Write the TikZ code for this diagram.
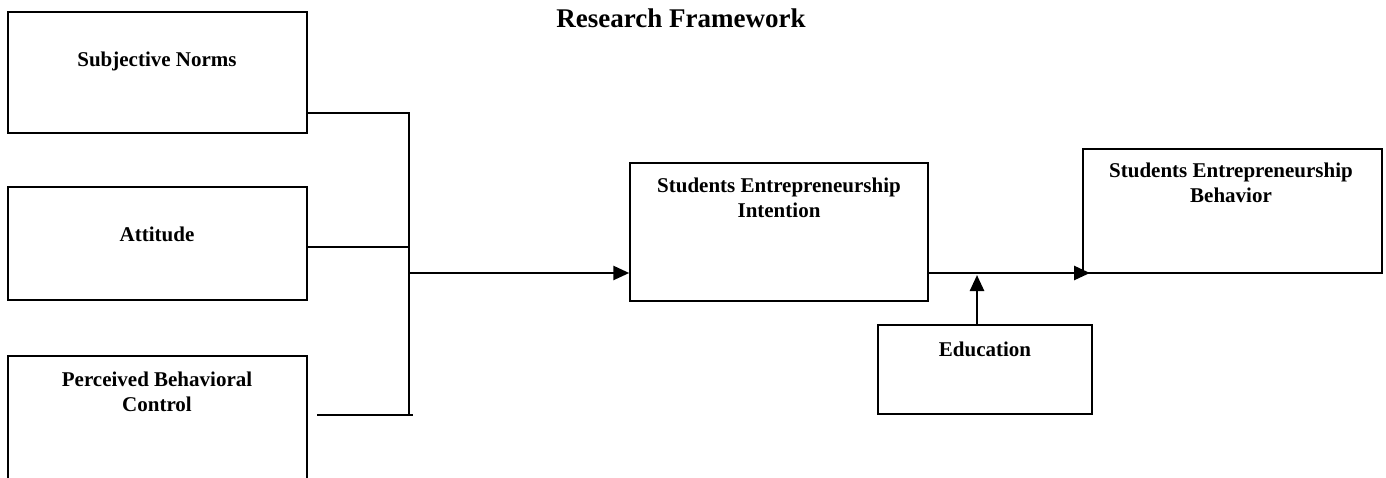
\documentclass[tikz,border=0pt]{standalone}
\usepackage{fontspec}
\setmainfont{Liberation Serif}
\usetikzlibrary{arrows.meta}
\begin{document}
\begin{tikzpicture}[x=1pt,y=-1pt,
  box/.style={draw, line width=1.5pt, inner sep=0pt},
  lbl/.style={anchor=base, align=center, inner sep=0pt,
    font=\bfseries\fontsize{21}{25}\selectfont},
  wire/.style={line width=2pt},
  flow/.style={line width=2.6pt, -{Triangle[length=16pt,width=14pt]}}]
\useasboundingbox (0,0) rectangle (1386,478);

% title
\node[anchor=base, inner sep=0pt, font=\bfseries\fontsize{27}{30}\selectfont]
  (title) at (681,28) {Research Framework};

% boxes
\node[box, minimum width=299pt, minimum height=121pt] (sn)  at (157.5,72.5) {};
\node[box, minimum width=299pt, minimum height=113pt] (att) at (157.5,243.5) {};
\node[box, minimum width=299pt, minimum height=134pt] (pbc) at (157.5,423) {};
\node[box, minimum width=298pt, minimum height=138pt] (sei) at (779,232) {};
\node[box, minimum width=299pt, minimum height=124pt] (seb) at (1232.5,211) {};
\node[box, minimum width=214pt, minimum height=89pt]  (edu) at (985,369.5) {};

% labels (anchor base = baseline of the last line)
\node[lbl] (snt)  at (157,67)  {Subjective Norms};
\node[lbl] (attt) at (157,242) {Attitude};
\node[lbl] (pbct) at (157,411) {Perceived Behavioral\\Control};
\node[lbl] (seit) at (779,218) {Students Entrepreneurship\\Intention};
\node[lbl] (sebt) at (1231,203) {Students Entrepreneurship\\Behavior};
\node[lbl] (edut) at (985,356) {Education};

% collecting bus
\coordinate (busTop) at (409,113);
\coordinate (busMid) at (409,247);
\coordinate (busOut) at (409,273);
\coordinate (busBot) at (409,415);
\coordinate (pbcL) at (317,415);
\coordinate (pbcR) at (413,415);
\coordinate (tipSeb) at (1090,273);
\coordinate (eduTip) at (977,275);

\draw[wire] (sn.east |- busTop) -- (busTop) -- (busBot);
\draw[wire] (att.east |- busMid) -- (busMid);
\draw[wire] (pbcL) -- (pbcR);

% arrows
\draw[flow] (busOut) -- (sei.west |- busOut);
\draw[flow] (sei.east |- busOut) -- (tipSeb);
\draw[flow] (edu.north -| eduTip) -- (eduTip);
\end{tikzpicture}
\end{document}
